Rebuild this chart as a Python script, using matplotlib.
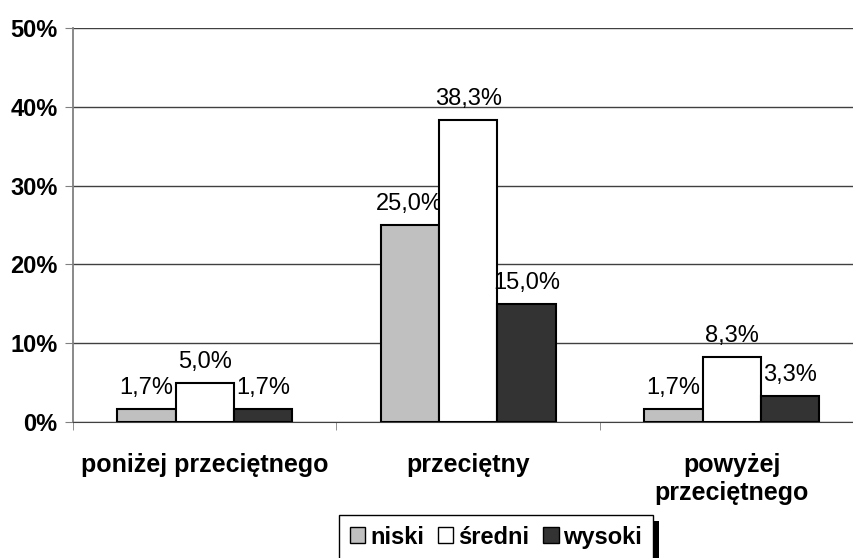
import matplotlib
matplotlib.use("Agg")
import matplotlib.pyplot as plt
import numpy as np
from matplotlib.patches import Patch, Rectangle

plt.rcParams['font.family'] = ['Liberation Sans', 'DejaVu Sans']

categories = ['poniżej przeciętnego', 'przeciętny', 'powyżej\nprzeciętnego']
series = ['niski', 'średni', 'wysoki']
values = {
    'niski': [1.7, 25.0, 1.7],
    'średni': [5.0, 38.3, 8.3],
    'wysoki': [1.7, 15.0, 3.3],
}
colors = {'niski': '#C0C0C0', 'średni': '#FFFFFF', 'wysoki': '#333333'}
yticks = [0, 10, 20, 30, 40, 50]

fig = plt.figure(figsize=(8.54, 5.58), dpi=100, facecolor='white')
ax = fig.add_axes([73 / 854, 1 - 422 / 558, 790.5 / 854, 394 / 558])

x = np.arange(len(categories))
width = 0.222

for i, name in enumerate(series):
    pos = x + (i - 1) * width
    bars = ax.bar(pos, values[name], width, color=colors[name],
                  edgecolor='black', linewidth=1.5, zorder=3)
    for b, v in zip(bars, values[name]):
        ax.annotate(f'{v:.1f}%'.replace('.', ','),
                    (b.get_x() + b.get_width() / 2, b.get_height()),
                    xytext=(0, 7), textcoords='offset points',
                    ha='center', va='bottom', fontsize=17)

ax.set_xlim(-0.5, len(categories) - 0.5)
ax.set_ylim(0, 50)
ax.set_yticks(yticks)
ax.set_yticklabels([f'{t}%' for t in yticks], fontsize=17, fontweight='bold')
ax.yaxis.grid(True, color='#404040', linewidth=1, zorder=0)
ax.set_axisbelow(True)

ax.set_xticks(x)
ax.set_xticklabels(categories, fontsize=18, fontweight='bold', linespacing=1.25)
ax.tick_params(axis='x', length=0, pad=22)
ax.set_xticks(np.arange(len(categories) + 1) - 0.5, minor=True)
ax.tick_params(axis='x', which='minor', length=6, color='#808080')
ax.tick_params(axis='y', length=6, color='#808080', pad=5)

for s in ['top', 'right']:
    ax.spines[s].set_visible(False)
ax.spines['left'].set_color('#808080')
ax.spines['left'].set_linewidth(1.3)
ax.spines['bottom'].set_color('#404040')

handles = [Patch(facecolor=colors[n], edgecolor='black', linewidth=1) for n in series]
leg = fig.legend(handles, series, loc='upper center', bbox_to_anchor=(496 / 854, 1 - 515 / 558),
                 ncol=3, frameon=True, fancybox=False, shadow=False, framealpha=1,
                 prop={'weight': 'bold', 'size': 17}, handlelength=0.65, handleheight=0.65,
                 handletextpad=0.2, columnspacing=0.6, borderpad=0.45, borderaxespad=0)
leg.get_frame().set_edgecolor('black')
leg.get_frame().set_facecolor('white')
leg.get_frame().set_linewidth(1)
leg.set_zorder(5)

# solid black drop shadow like the original
fig.canvas.draw()
bb = leg.get_window_extent()
fig.add_artist(Rectangle((bb.x0 + 6, bb.y0 - 6), bb.width, bb.height,
                         transform=None, facecolor='black', edgecolor='none', zorder=4))

fig.savefig('out.png', dpi=100, facecolor='white')
